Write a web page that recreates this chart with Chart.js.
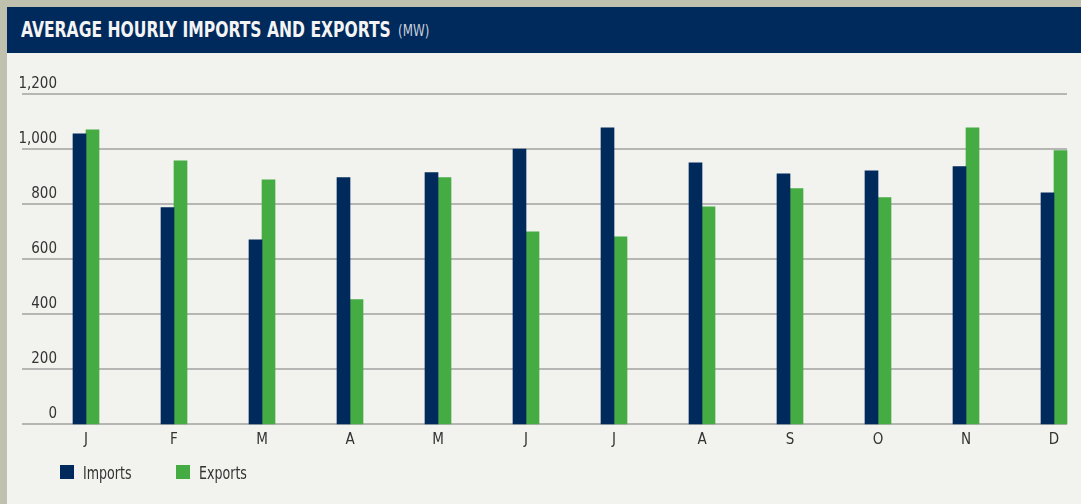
<!DOCTYPE html>
<html>
<head>
<meta charset="utf-8">
<script src="https://cdn.jsdelivr.net/npm/chart.js@4.4.1/dist/chart.umd.min.js"></script>
<style>
  html, body { margin: 0; padding: 0; }
  body {
    width: 1081px; height: 504px; overflow: hidden;
    background: #bfc0ae; position: relative;
    font-family: "DejaVu Sans Condensed", "Liberation Sans Narrow", "Liberation Sans", sans-serif;
  }
  #panel {
    position: absolute; left: 7px; top: 7px; right: 0; bottom: 0;
    background: #f2f2ee;
  }
  #header {
    position: absolute; left: 7px; top: 7px; width: 1074px; height: 46px;
    background: #002a5c; color: #f4f4f4;
    line-height: 46px; white-space: nowrap;
  }
  #header .title {
    position: absolute; left: 14px; top: 0;
    font-size: 21px; font-weight: bold;
    transform: scaleX(0.825); transform-origin: left center;
  }
  #header .unit {
    position: absolute; left: 391px; top: 1px;
    font-size: 15px; color: #c9cfda;
    transform: scaleX(0.88); transform-origin: left center;
  }
  #chartBox { position: absolute; left: 7px; top: 53px; width: 1074px; height: 451px; }
  #legend { position: absolute; left: 60px; top: 463px; height: 18px; display: flex; }
  #legend .item { width: 116px; display: flex; align-items: center; font-size: 18px; color: #333; }
  #legend .swatch { width: 14px; height: 14px; margin-right: 9px; flex: none; }
  #legend .text { display: inline-block; transform: scaleX(0.78); transform-origin: left center; }
</style>
</head>
<body>
<div id="panel"></div>
<div id="header"><span class="title">AVERAGE HOURLY IMPORTS AND EXPORTS</span><span class="unit">(MW)</span></div>
<div id="chartBox"><canvas id="importsExportsChart"></canvas></div>
<div id="legend"></div>
<script>
const months = ['J', 'F', 'M', 'A', 'M', 'J', 'J', 'A', 'S', 'O', 'N', 'D'];
const imports = [1055, 787, 670, 896, 914, 1000, 1077, 950, 910, 921, 936, 841];
const exports = [1070, 957, 888, 452, 896, 699, 681, 790, 856, 823, 1077, 994];
const yTicks = [0, 200, 400, 600, 800, 1000, 1200];

const seriesColors = { Imports: '#002a5c', Exports: '#45ab43' };
const tickFont = '"DejaVu Sans Condensed", "Liberation Sans Narrow", sans-serif';

// horizontal rules run wider than the plot area, so draw them here
const wideGrid = {
    id: 'wideGrid',
    beforeDatasetsDraw(chart) {
        const ctx = chart.ctx;
        const y = chart.scales.y;
        ctx.save();
        ctx.strokeStyle = '#a2a2a2';
        ctx.lineWidth = 1.5;
        y.ticks.forEach(function (t) {
            const py = y.getPixelForValue(t.value);
            ctx.beginPath();
            ctx.moveTo(15, py);
            ctx.lineTo(1060, py);
            ctx.stroke();
        });
        ctx.restore();
    }
};

const ctx = document.querySelector('#importsExportsChart').getContext('2d');

const chart = new Chart(ctx, {
    type: 'bar',
    data: {
        labels: months,
        datasets: [{
            label: 'Imports',
            data: imports,
            backgroundColor: seriesColors.Imports,
            barThickness: 13,
            clip: false
        }, {
            label: 'Exports',
            data: exports,
            backgroundColor: seriesColors.Exports,
            barThickness: 13,
            clip: false
        }]
    },
    options: {
        responsive: true,
        maintainAspectRatio: false,
        animation: false,
        locale: 'en-US',
        layout: {
            padding: { left: 0, right: 27, top: 41, bottom: 48 }
        },
        plugins: {
            legend: { display: false },
            tooltip: { enabled: false }
        },
        scales: {
            x: {
                offset: false,
                grid: { display: false, drawTicks: false },
                border: { display: false },
                ticks: {
                    color: '#333',
                    padding: 7,
                    font: { family: tickFont, size: 15 }
                }
            },
            y: {
                min: 0,
                max: 1200,
                afterBuildTicks: function (scale) {
                    scale.ticks = yTicks.map(function (v) { return { value: v }; });
                },
                afterFit: function (scale) { scale.width = 79; },
                grid: { display: false, drawTicks: false },
                border: { display: false },
                ticks: {
                    color: '#333',
                    padding: 29,
                    labelOffset: -10,
                    font: { family: tickFont, size: 15 }
                }
            }
        }
    },
    plugins: [wideGrid]
});

// legend built from the chart's datasets
const legendEl = document.getElementById('legend');
chart.data.datasets.forEach(function (ds) {
    const item = document.createElement('div');
    item.className = 'item';
    const sw = document.createElement('span');
    sw.className = 'swatch';
    sw.style.background = ds.backgroundColor;
    const tx = document.createElement('span');
    tx.className = 'text';
    tx.textContent = ds.label;
    item.appendChild(sw);
    item.appendChild(tx);
    legendEl.appendChild(item);
});
</script>
</body>
</html>
